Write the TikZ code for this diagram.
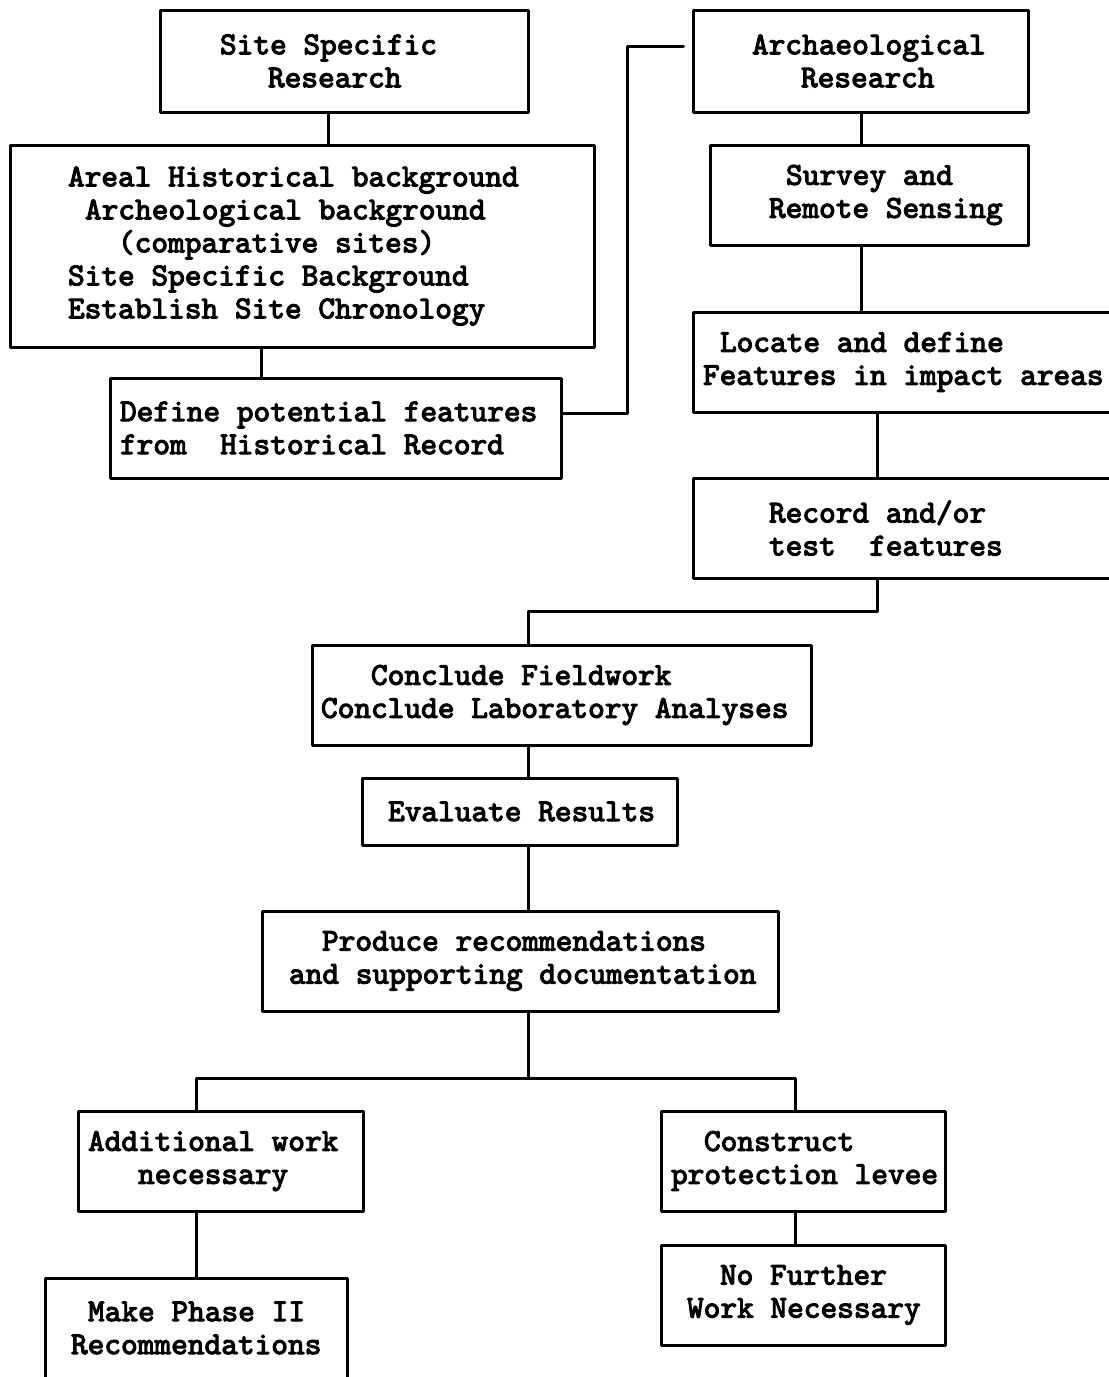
\documentclass[tikz,border=0pt]{standalone}
\usepackage{fontspec}
\usepackage{tikz}
\newfontfamily\typefont{lmmono10-regular.otf}[FakeBold=3.5]
\newcommand\mv[1]{\spaceskip=0pt\xspaceskip=0pt\hspace*{#1pt}}

\begin{document}
\begin{tikzpicture}[line cap=round,line join=round,x=1pt,y=-1pt,line width=3pt,
  box/.style={draw,inner xsep=0pt,inner ysep=0pt,align=left,
    font=\typefont\fontsize{31.8}{33}\selectfont}]
\path[use as bounding box,fill=white] (0,0) rectangle (1109,1377);
% left column
\node[box,text width=368pt,minimum height=102pt] (site) at (344,61) {\mv{60}Site Specific\\\mv{108}Research};
\node[box,text width=584pt,minimum height=202pt] (areal) at (302,246) {\mv{58}Areal Historical background\\\mv{75}Archeological background\\\mv{108}(comparative sites)\\\mv{58}Site Specific Background\\\mv{58}Establish Site Chronology};
\node[box,text width=451pt,minimum height=100pt] (define) at (335.5,428) {\mv{10}Define potential features\\\mv{10}from~ Historical Record};
% right column
\node[box,text width=335pt,minimum height=102pt] (arch) at (860.5,61) {\mv{59}Archaeological\\\mv{108}Research};
\node[box,text width=318pt,minimum height=100pt] (survey) at (869,195) {\mv{76}Survey and\\\mv{59}Remote Sensing};
\node[box,text width=432pt,minimum height=100pt] (locate) at (909,362) {\mv{27}Locate and define\\\mv{10}Features in impact areas};
\node[box,text width=432pt,minimum height=100pt] (record) at (909,528) {\mv{76}Record and/or\\\mv{76}test~ features};
% middle
\node[box,text width=499pt,minimum height=100pt] (conclude) at (561.5,695) {\mv{59}Conclude Fieldwork\\\mv{9}Conclude Laboratory Analyses};
\node[box,text width=315pt,minimum height=67pt] (evaluate) at (519.5,811.5) {\mv{26}Evaluate Results};
\node[box,text width=516pt,minimum height=100pt] (produce) at (520,961) {\mv{60}Produce recommendations\\\mv{27}and supporting documentation};
% bottom
\node[box,text width=285pt,minimum height=100pt] (addwork) at (220.5,1161) {\mv{10}Additional work\\\mv{60}necessary};
\node[box,text width=284pt,minimum height=100pt] (levee) at (803,1161) {\mv{43}Construct\\\mv{10}protection levee};
\node[box,text width=302pt,minimum height=100pt] (phase) at (196,1328) {\mv{43}Make Phase II\\\mv{26}Recommendations};
\node[box,text width=284pt,minimum height=100pt] (nowork) at (803,1295) {\mv{59}No Further\\\mv{26}Work Necessary};
% connector positions
\coordinate (ax) at (328,0);
\coordinate (bx) at (261,0);
\coordinate (turnlo) at (627,413);
\coordinate (turnhi) at (627,46);
\coordinate (dx) at (861,0);
\coordinate (fx) at (877,0);
\coordinate (turnrec) at (877,611);
\coordinate (mx) at (528,0);
\coordinate (split) at (528,1078);
\coordinate (kx) at (196,0);
\coordinate (lx) at (795,0);
% connectors
\draw (site.south -| ax) -- (areal.north -| ax);
\draw (areal.south -| bx) -- (define.north -| bx);
\draw[shorten >=8pt] (define.east |- turnlo) -- (turnlo) -- (turnhi) -- (turnhi -| arch.west);
\draw (arch.south -| dx) -- (survey.north -| dx);
\draw (survey.south -| dx) -- (locate.north -| dx);
\draw (locate.south -| fx) -- (record.north -| fx);
\draw (record.south -| fx) -- (turnrec) -- (turnrec -| mx) -- (conclude.north -| mx);
\draw (conclude.south -| mx) -- (evaluate.north -| mx);
\draw (evaluate.south -| mx) -- (produce.north -| mx);
\draw (produce.south -| mx) -- (split);
\draw (addwork.north -| kx) -- (split -| kx) -- (split -| lx) -- (levee.north -| lx);
\draw (addwork.south -| kx) -- (phase.north -| kx);
\draw (levee.south -| lx) -- (nowork.north -| lx);
\end{tikzpicture}
\end{document}
